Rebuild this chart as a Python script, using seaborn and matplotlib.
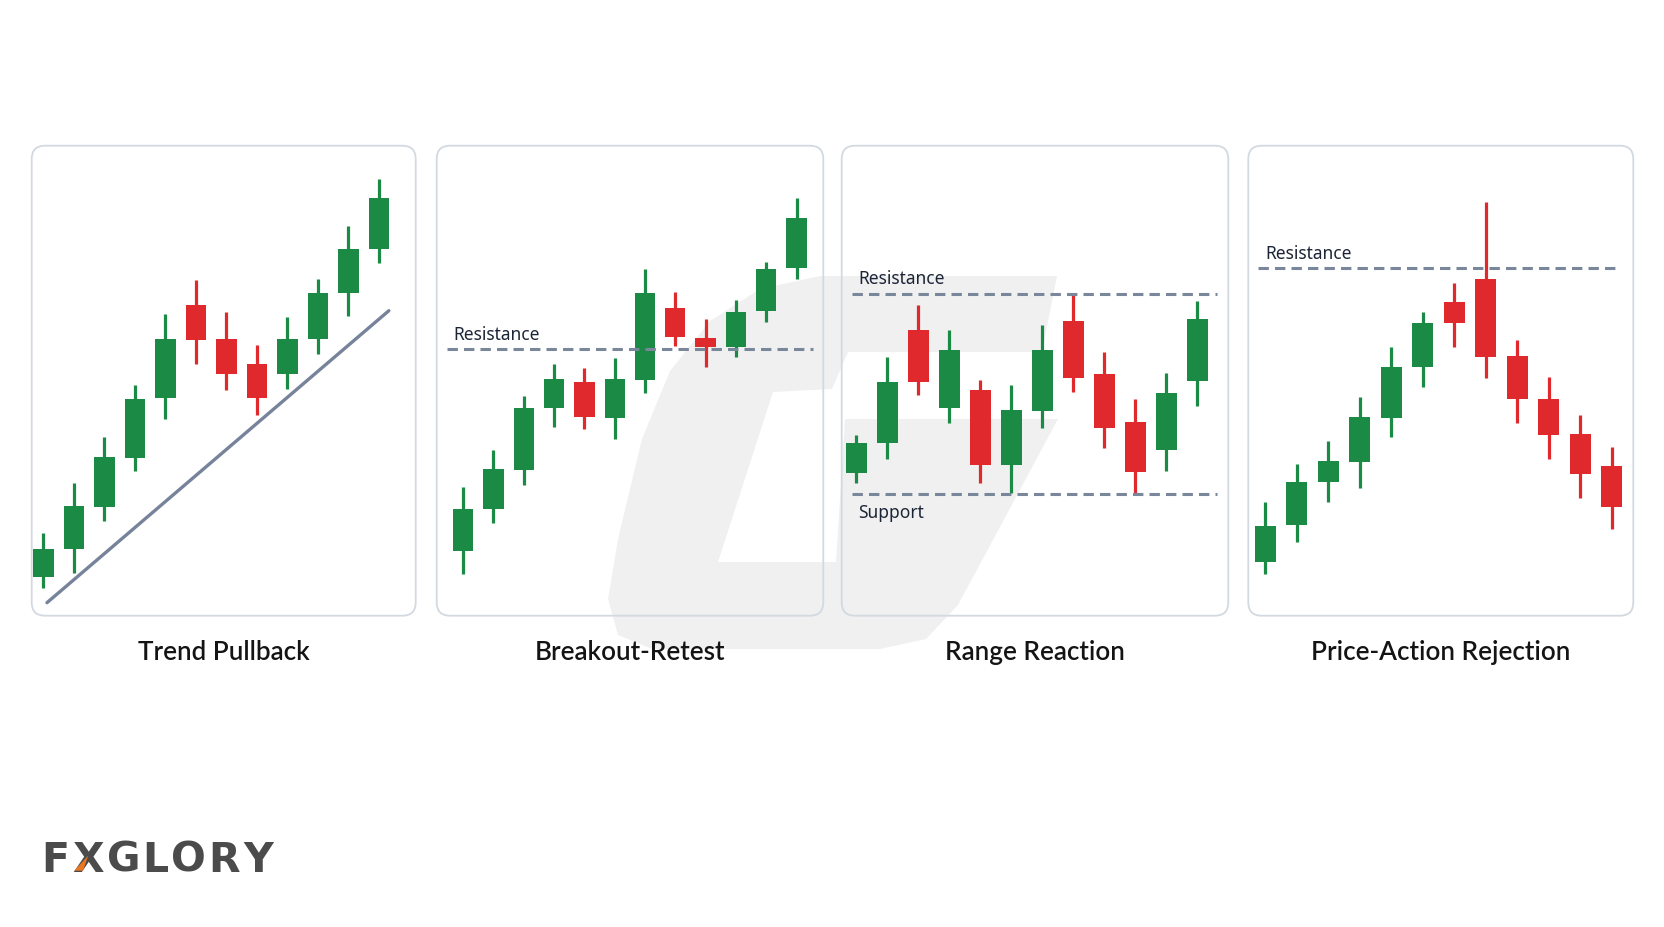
import matplotlib
matplotlib.use("Agg")
import numpy as np
import pandas as pd
import matplotlib.pyplot as plt
import seaborn as sns
from matplotlib.patches import FancyBboxPatch, Polygon

# ---- data (price units) ----
titles = ["Trend Pullback", "Breakout-Retest", "Range Reaction", "Price-Action Rejection"]

trend_open = [39, 67, 109, 158, 218, 311, 277, 252, 242, 277, 323, 367]
trend_close = [67, 110, 159, 217, 277, 276, 242, 218, 277, 323, 367, 418]
trend_high = [83, 133, 179, 231, 302, 336, 304, 271, 299, 337, 390, 437]
trend_low = [28, 43, 95, 145, 197, 252, 226, 201, 227, 262, 300, 353]
trend_line_x = [0.12, 11.33]
trend_line_y = [13, 305]

breakout_open = [65, 107, 146, 208, 234, 198, 236, 308, 278, 269, 305, 348]
breakout_close = [107, 147, 208, 237, 199, 237, 323, 279, 269, 304, 347, 398]
breakout_high = [129, 166, 220, 252, 248, 258, 347, 324, 297, 316, 354, 418]
breakout_low = [42, 93, 131, 189, 187, 177, 223, 270, 249, 259, 294, 337]
breakout_resistance = 267

range_open = [143, 173, 286, 208, 226, 151, 205, 295, 242, 194, 166, 235]
range_close = [173, 234, 234, 266, 151, 206, 266, 238, 188, 144, 223, 297]
range_high = [181, 259, 311, 286, 236, 231, 291, 321, 264, 217, 243, 315]
range_low = [133, 157, 221, 193, 133, 123, 188, 224, 168, 123, 145, 210]
range_resistance = 322
range_support = 122

reject_open = [54, 91, 134, 154, 198, 249, 314, 337, 260, 217, 182, 150]
reject_close = [90, 134, 155, 199, 249, 293, 293, 259, 217, 181, 142, 109]
reject_high = [114, 152, 175, 219, 269, 304, 333, 414, 276, 239, 201, 169]
reject_low = [42, 74, 114, 128, 179, 229, 269, 238, 193, 157, 118, 87]
reject_resistance = 348

brand = "FXGLORY"

# ---- style ----
W, H = 1664, 928
GREEN = "#1b8a45"
RED = "#e0292c"
LEVEL = "#7a879a"
FRAME = "#d3d9e0"
TEXT = "#1c2536"

sns.set_theme(style="white")
plt.rcParams["font.family"] = ["Noto Sans", "DejaVu Sans"]

fig = plt.figure(figsize=(W / 100, H / 100), dpi=100)
fig.patch.set_facecolor("white")


def fx(x):
    return x / W


def fy(y):
    return 1 - y / H


# faint logo watermark behind the middle panels
outer = [(1057, 277), (820, 277), (760, 290), (710, 322), (670, 372), (642, 440),
         (618, 540), (608, 600), (618, 636), (652, 650), (880, 650), (926, 640),
         (958, 606), (1058, 420), (1042, 353)]
hole = [(773, 393), (832, 390), (848, 353), (1090, 353), (1090, 420), (845, 420),
        (836, 563), (718, 563)]
fig.add_artist(Polygon([(fx(a), fy(b)) for a, b in outer], closed=True,
                       transform=fig.transFigure, facecolor="#f0f0f0",
                       edgecolor="none", zorder=-3))
fig.add_artist(Polygon([(fx(a), fy(b)) for a, b in hole], closed=True,
                       transform=fig.transFigure, facecolor="white",
                       edgecolor="none", zorder=-2))

panel_edges = [(31.7, 415.7), (436.7, 823.3), (841.7, 1228.3), (1248.3, 1633.3)]
panel_top, panel_bottom = 146.7, 616.7
xlims = [(-0.38, 12.21), (-0.87, 11.88), (-0.47, 12.0), (-0.54, 11.68)]

panels = [
    (trend_open, trend_close, trend_high, trend_low),
    (breakout_open, breakout_close, breakout_high, breakout_low),
    (range_open, range_close, range_high, range_low),
    (reject_open, reject_close, reject_high, reject_low),
]


def draw_candles(ax, o, c, h, l):
    df = pd.DataFrame({"open": o, "close": c, "high": h, "low": l})
    df["x"] = np.arange(len(df))
    df["up"] = df["close"] >= df["open"]
    colors = np.where(df["up"], GREEN, RED)
    ax.vlines(df["x"], df["low"], df["high"], colors=colors, lw=2.3, zorder=2)
    ax.bar(df["x"], (df["close"] - df["open"]).abs(),
           bottom=df[["open", "close"]].min(axis=1), width=0.67,
           color=colors, edgecolor="none", zorder=3)


def level(ax, y, x0, x1):
    ax.hlines(y, x0, x1, colors=LEVEL, lw=2.2, linestyles=(0, (3.4, 2.0)), zorder=4)


axes = []
for i, (L, R) in enumerate(panel_edges):
    # rounded card frame
    fig.add_artist(FancyBboxPatch((fx(L), fy(panel_bottom)), fx(R - L),
                                  (panel_bottom - panel_top) / H,
                                  boxstyle="round,pad=0,rounding_size=0.008",
                                  transform=fig.transFigure, facecolor="none",
                                  edgecolor=FRAME, lw=1.3, zorder=-1,
                                  mutation_aspect=W / H))
    ax = fig.add_axes([fx(L), fy(panel_bottom), fx(R - L), (panel_bottom - panel_top) / H])
    ax.set_facecolor("none")
    ax.set_xlim(*xlims[i])
    ax.set_ylim(0, 470)
    ax.axis("off")
    draw_candles(ax, *panels[i])
    fig.text(fx((L + R) / 2), fy(660), titles[i], ha="center", va="baseline",
             fontsize=18.7, color="#141414", fontweight=600, family=["Lato"])
    axes.append(ax)

# trend line
sns.lineplot(x=trend_line_x, y=trend_line_y, ax=axes[0], color="#76839a",
             lw=2.4, zorder=1)

# breakout-retest
level(axes[1], breakout_resistance, -0.54, 11.55)
axes[1].text(-0.32, breakout_resistance + 10, "Resistance", fontsize=12.5,
             color=TEXT, va="baseline", ha="left")

# range reaction
level(axes[2], range_resistance, -0.15, 11.62)
level(axes[2], range_support, -0.15, 11.62)
axes[2].text(0.06, range_resistance + 11, "Resistance", fontsize=12.5,
             color=TEXT, va="baseline", ha="left")
axes[2].text(0.06, range_support - 23, "Support", fontsize=12.5,
             color=TEXT, va="baseline", ha="left")

# price-action rejection
level(axes[3], reject_resistance, -0.22, 11.29)
axes[3].text(-0.01, reject_resistance + 10, "Resistance", fontsize=12.5,
             color=TEXT, va="baseline", ha="left")

# brand mark, letters spaced out a little
fig.canvas.draw()
r = fig.canvas.get_renderer()
cursor = 41.7
x_left = x_width = None
for ch in brand:
    t = fig.text(fx(cursor), fy(871.7), ch, fontsize=29.5, fontweight="bold",
                 color="#4b4b4b", family=["DejaVu Sans"], va="baseline", ha="left")
    bb = t.get_window_extent(r)
    if ch == "X":
        x_left, x_width = cursor, bb.width
    cursor += bb.width + 2.6

base = 871.7
cap = 30
tri = [(x_left + 0.06 * x_width, base), (x_left + 0.34 * x_width, base),
       (x_left + 0.5 * x_width, base - 0.5 * cap)]
fig.add_artist(Polygon([(fx(a), fy(b)) for a, b in tri], closed=True,
                       transform=fig.transFigure, facecolor="#e87722",
                       edgecolor="none", zorder=5))

fig.savefig("out.png", dpi=100, facecolor="white")
